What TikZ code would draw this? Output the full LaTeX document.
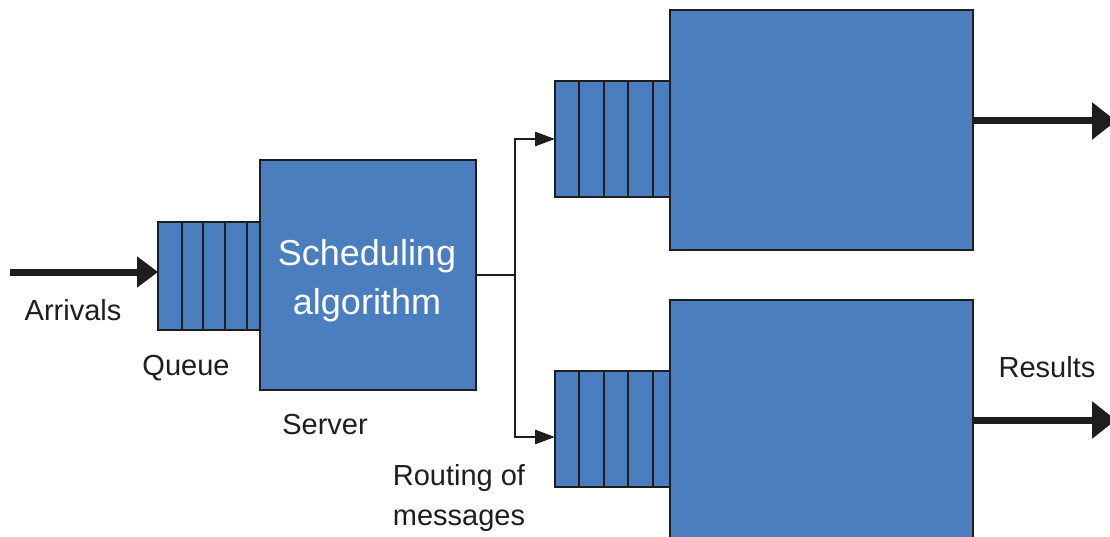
\documentclass[tikz,border=0pt]{standalone}
\usepackage{fontspec}
\setmainfont{Liberation Sans}
\usetikzlibrary{arrows.meta}
\definecolor{boxblue}{RGB}{74,126,191}
\definecolor{inkgray}{RGB}{30,30,30}
\begin{document}
\begin{tikzpicture}[x=1pt,y=-1pt,
  blk/.style={draw=inkgray, line width=1.3pt, fill=boxblue, inner sep=0pt, outer sep=0pt, anchor=north west},
  divider/.style={draw=inkgray, line width=1.3pt},
  lbl/.style={font=\fontsize{29}{40}\selectfont, text=inkgray, align=center, inner sep=0pt},
  bigarrow/.style={draw=inkgray, line width=7pt, -{Triangle[length=21pt,width=30pt]}},
  outarrow/.style={draw=inkgray, line width=7pt, -{Triangle[length=24pt,width=36pt]}},
  smallarrow/.style={draw=inkgray, line width=2.8pt, -{Triangle[length=20pt,width=14pt]}}]
\useasboundingbox (0,0) rectangle (1110,537);
\fill[white] (0,0) rectangle (1110,537);

% left queue and server
\node[blk, minimum width=104pt, minimum height=108pt] (q0) at (158,222) {};
\foreach \x in {182,203,225,247} \draw[divider] (\x,222) -- (\x,330);
\node[blk, minimum width=216pt, minimum height=230pt] (srv) at (260,160) {};
\node[font=\fontsize{36}{49}\selectfont, text=white, align=center, inner sep=0pt] (srvtxt) at (367,281) {Scheduling\\algorithm};

% upper queue and processor
\node[blk, minimum width=117pt, minimum height=116pt] (q1) at (555,81) {};
\foreach \x in {579,604,628,653} \draw[divider] (\x,81) -- (\x,197);
\node[blk, minimum width=303pt, minimum height=240pt] (b1) at (670,10) {};

% lower queue and processor
\node[blk, minimum width=117pt, minimum height=116pt] (q2) at (555,371) {};
\foreach \x in {579,604,628,653} \draw[divider] (\x,371) -- (\x,487);
\node[blk, minimum width=303pt, minimum height=250pt] (b2) at (670,300) {};

% connectors
\coordinate (arrstart) at (10,272);
\draw[bigarrow] (arrstart) -- (q0.west |- arrstart);
\coordinate (split) at (515,275);
\draw[smallarrow] (srv.east |- split) -- (split) |- (q1.west);
\draw[smallarrow] (split) |- ([yshift=-8pt]q2.west);
\coordinate (out1) at (1116,121);
\coordinate (out2) at (1116,420);
\draw[outarrow] (b1.east |- out1) -- (out1);
\draw[outarrow] (b2.east |- out2) -- (out2);

% labels
\node[lbl] (arrivals) at (73,310) {Arrivals};
\node[lbl] (queue) at (186,368) {Queue};
\node[lbl] (server) at (325,425) {Server};
\node[lbl] (results) at (1047,367) {Results};
\node[lbl] (routing) at (459,498) {Routing of\\messages};
\end{tikzpicture}
\end{document}
